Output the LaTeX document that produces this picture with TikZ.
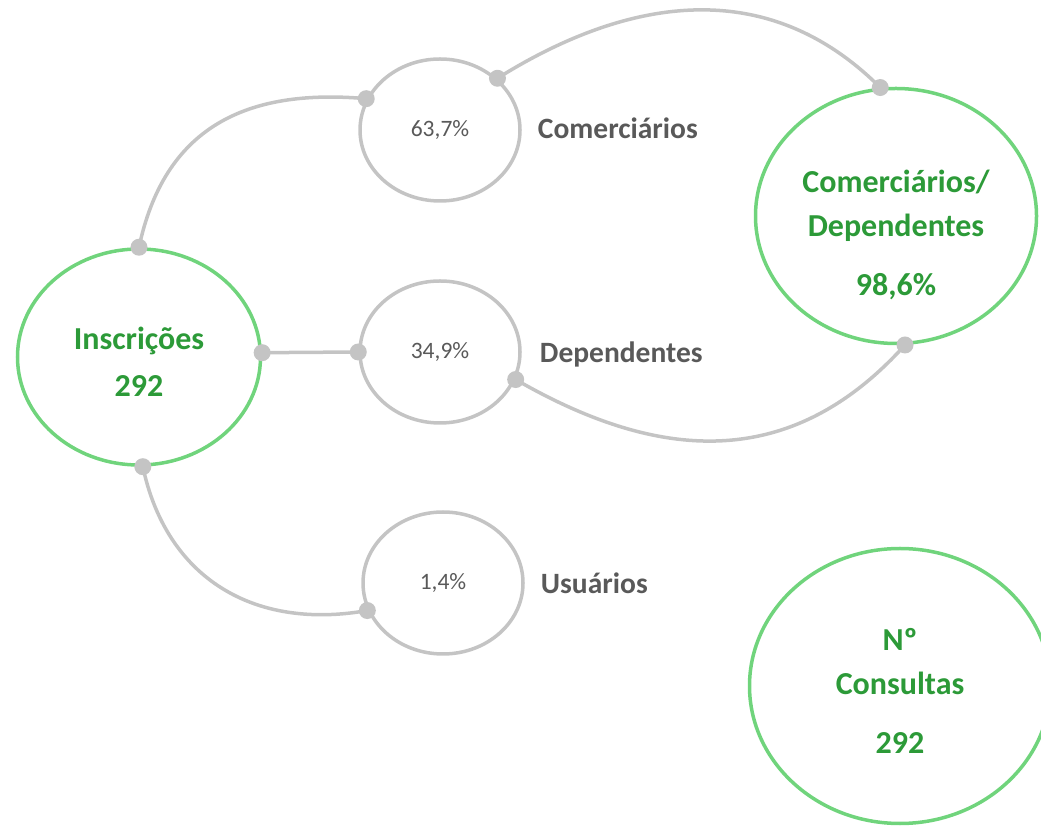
\documentclass[tikz,border=0pt]{standalone}
\usepackage{fontspec}
\setmainfont{Carlito}
\usetikzlibrary{shapes.geometric,positioning}
\definecolor{verde}{RGB}{112,212,124}
\definecolor{verdetexto}{RGB}{44,154,56}
\definecolor{cinza}{RGB}{196,196,196}
\definecolor{cinzatexto}{RGB}{89,89,89}

\begin{document}
\begin{tikzpicture}[x=1pt,y=1pt,
    grande/.style={ellipse,draw=verde,line width=3.5pt,inner sep=0pt},
    textogrande/.style={text=verdetexto,font=\bfseries\fontsize{32}{44}\selectfont,align=center,inner sep=0pt},
    pequeno/.style={ellipse,draw=cinza,line width=3.5pt,minimum width=160pt,minimum height=142pt,
        text=cinzatexto,font=\fontsize{23.5}{28}\selectfont,inner sep=0pt},
    rotulo/.style={text=cinzatexto,font=\bfseries\fontsize{29.5}{34}\selectfont,inner sep=0pt},
    ponto/.style={circle,fill=cinza,inner sep=0pt,minimum size=17pt},
    linha/.style={draw=cinza,line width=3.5pt}]
    \useasboundingbox (0,0) rectangle (1041,827);

    \node[grande,minimum width=243pt,minimum height=216pt] (ins) at (139,470) {};
    \node[grande,minimum width=281pt,minimum height=255pt] (cd) at (896,611) {};
    \node[grande,minimum width=301pt,minimum height=275pt] (nc) at (900,141) {};
    \node[pequeno] (com) at (440,697) {63,7\%};
    \node[pequeno] (dep) at (440,475) {34,9\%};
    \node[pequeno] (usu) at (443,244) {1,4\%};

    \node[textogrande] (tins) at ([yshift=-4.5pt]ins.center) {Inscrições\\[3pt]292};
    \node[textogrande] (tcd) at ([yshift=-19pt]cd.center) {Comerciários/\\Dependentes\\[15pt]98,6\%};
    \node[textogrande] (tnc) at ([yshift=-5pt]nc.center) {Nº\\Consultas\\[15pt]292};

    \node[rotulo,right=16pt of com,yshift=2pt] (lcom) {Comerciários};
    \node[rotulo,right=18pt of dep,yshift=-2pt] (ldep) {Dependentes};
    \node[rotulo,right=16pt of usu] (lusu) {Usuários};

    % pontos de ligacao
    \node[ponto] (p1) at (ins.90) {};
    \node[ponto] (p2) at (ins.2) {};
    \node[ponto] (p3) at (ins.-88) {};
    \node[ponto] (p4) at (com.157) {};
    \node[ponto] (p5) at (com.42) {};
    \node[ponto] (p6) at (dep.180) {};
    \node[ponto] (p7) at (dep.-20.6) {};
    \node[ponto] (p8) at (usu.200) {};
    \node[ponto] (p9) at (cd.97) {};
    \node[ponto] (p10) at (cd.-86.4) {};

    \draw[linha] (p1.center) to[out=78,in=175,looseness=1.15] (p4.center);
    \draw[linha] (p2.center) -- (p6.center);
    \draw[linha] (p3.center) to[out=-78,in=190,looseness=1.1] (p8.center);
    \draw[linha] (p5.center) to[out=32,in=135,looseness=1.05] (p9.center);
    \draw[linha] (p7.center) to[out=-30,in=228,looseness=1.1] (p10.center);

\end{tikzpicture}
\end{document}
